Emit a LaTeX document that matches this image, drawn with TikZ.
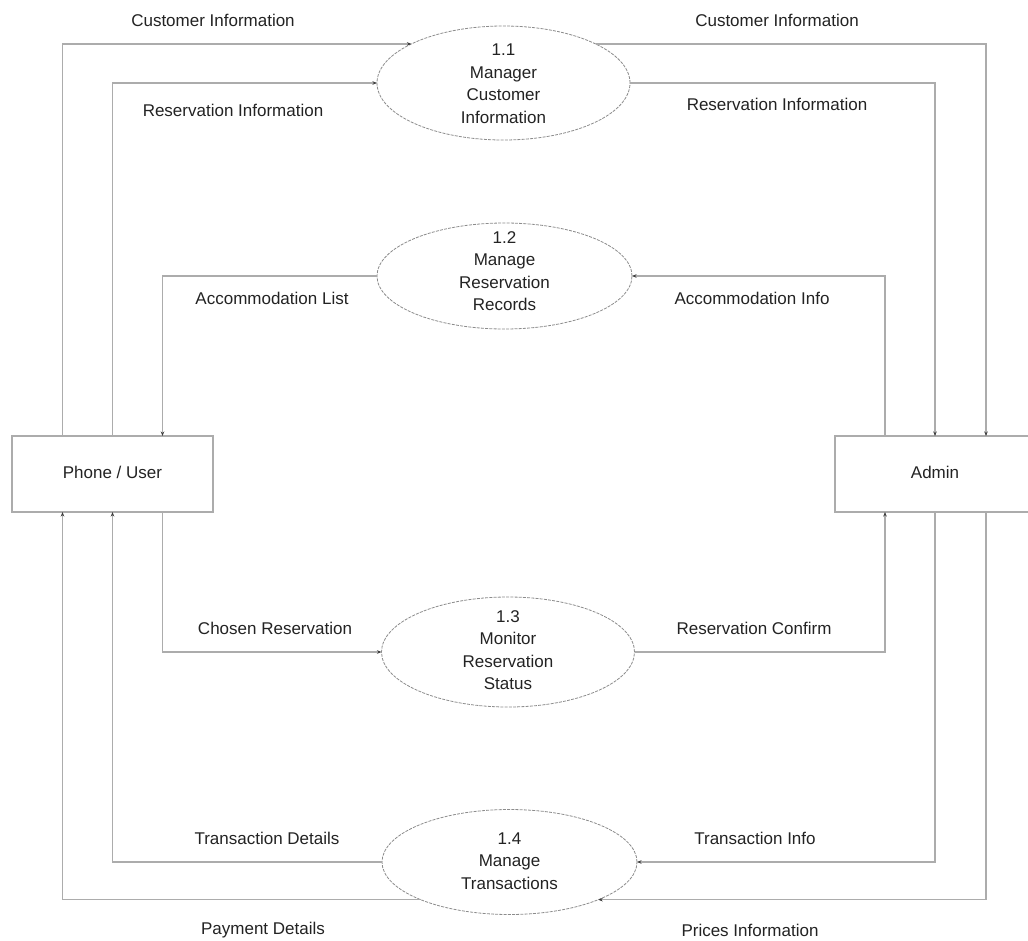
\documentclass[tikz,border=0pt]{standalone}
\usepackage{fontspec}
\setmainfont{Liberation Sans}
\usetikzlibrary{shapes.geometric,arrows.meta,calc}
\definecolor{linegray}{RGB}{172,172,172}
\definecolor{ellgray}{RGB}{140,140,140}
\definecolor{txtcol}{RGB}{35,35,35}
\definecolor{tipcol}{RGB}{60,60,60}
\tikzset{
  every node/.style={text=txtcol, font=\fontsize{17}{22.5}\selectfont},
  entity/.style={draw=linegray, line width=1.2pt, rectangle, minimum width=201, minimum height=76, inner sep=0pt, outer sep=0pt},
  proc/.style={draw=ellgray, line width=0.8pt, dash pattern=on 3pt off 1.2pt, ellipse, inner sep=0pt, outer sep=0pt},
  ptext/.style={align=center, inner sep=0pt},
  flow/.style={draw=linegray, line width=1.2pt, -{Stealth[length=4.5pt,width=3.5pt,color=tipcol]}},
  lbl/.style={inner sep=0pt}
}
\begin{document}
\begin{tikzpicture}[x=1pt,y=-1pt]
\useasboundingbox (0,0) rectangle (1028,940);
\clip (0,0) rectangle (1028,940);
\fill[white] (0,0) rectangle (1028,940);

% entities
\node[entity] (phone) at (112.5,474) {};
\node (phonet) at (112.5,472) {Phone / User};
\node[entity, minimum width=200] (admin) at (935,474) {};
\node (admint) at (935,472) {Admin};

% processes
\node[proc, minimum width=253, minimum height=114] (e11) at (503.5,83) {};
\node[ptext] (e11t) at (503.5,83.5) {1.1\\Manager\\Customer\\Information};
\node[proc, minimum width=255, minimum height=106] (e12) at (504.5,276) {};
\node[ptext] (e12t) at (504.5,271) {1.2\\Manage\\Reservation\\Records};
\node[proc, minimum width=253, minimum height=110] (e13) at (508,652) {};
\node[ptext] (e13t) at (508,650) {1.3\\Monitor\\Reservation\\Status};
\node[proc, minimum width=255, minimum height=105] (e14) at (509.5,862) {};
\node[ptext] (e14t) at (509.5,861) {1.4\\Manage\\Transactions};

% flows 1.1
\draw[flow] ($(phone.north)+(-50,0)$) |- (e11.157);
\draw[flow] (phone.north) |- (e11.west);
\draw[flow] (e11.23) -| ($(admin.north)+(51,0)$);
\draw[flow] (e11.east) -| (admin.north);
% flows 1.2
\draw[flow] ($(admin.north)+(-50,0)$) |- (e12.east);
\draw[flow] (e12.west) -| ($(phone.north)+(50,0)$);
% flows 1.3
\draw[flow] ($(phone.south)+(50,0)$) |- (e13.west);
\draw[flow] (e13.east) -| ($(admin.south)+(-50,0)$);
% flows 1.4
\draw[flow] (admin.south) |- (e14.east);
\draw[flow] ($(admin.south)+(51,0)$) |- (e14.-23);
\draw[flow] (e14.west) -| (phone.south);
\draw[flow] (e14.203) -| ($(phone.south)+(-50,0)$);

% labels
\node[lbl] (l1) at (213,20) {Customer Information};
\node[lbl] (l2) at (777,20) {Customer Information};
\node[lbl] (l3) at (233,110) {Reservation Information};
\node[lbl] (l4) at (777,104) {Reservation Information};
\node[lbl] (l5) at (272,298) {Accommodation List};
\node[lbl] (l6) at (752,298) {Accommodation Info};
\node[lbl] (l7) at (275,628) {Chosen Reservation};
\node[lbl] (l8) at (754,628) {Reservation Confirm};
\node[lbl] (l9) at (267,838) {Transaction Details};
\node[lbl] (l10) at (755,838) {Transaction Info};
\node[lbl] (l11) at (263,930) {Payment Details};
\node[lbl] (l12) at (750,930) {Prices Information};
\end{tikzpicture}
\end{document}
